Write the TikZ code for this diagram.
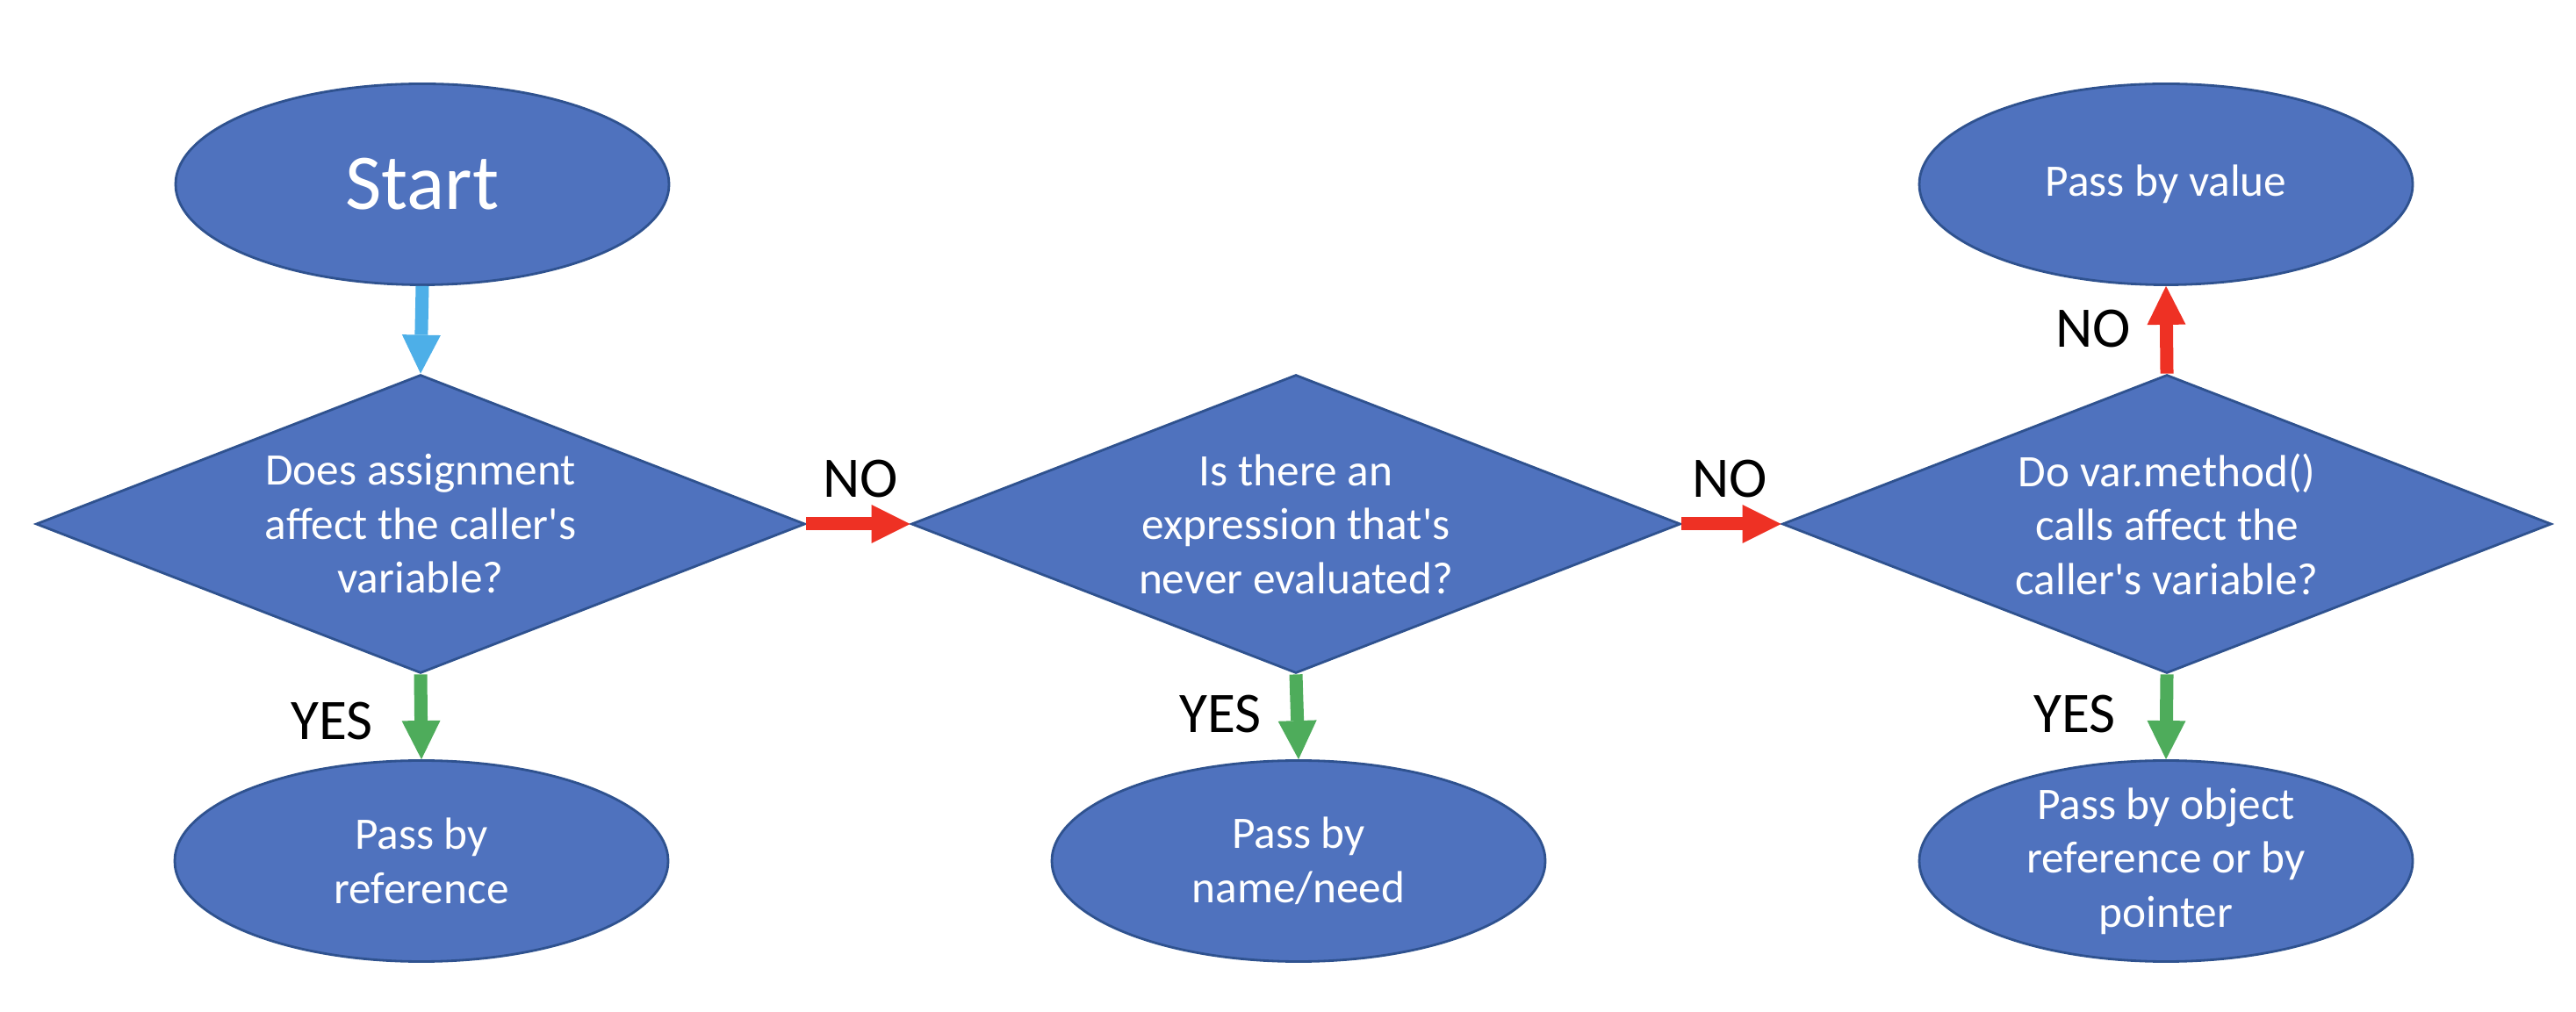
\documentclass[tikz,border=0pt]{standalone}
\usepackage{fontspec}
\setmainfont{Carlito}
\usepackage{xcolor}
\usetikzlibrary{shapes.geometric}
\usetikzlibrary{arrows.meta}

\definecolor{boxblue}{HTML}{4F72BE}
\definecolor{boxedge}{HTML}{2F528F}
\definecolor{noRed}{HTML}{EE3124}
\definecolor{yesGreen}{HTML}{4EAC5B}
\definecolor{startBlue}{HTML}{4DAFE8}

\tikzset{
	terminal/.style={ellipse, draw=boxedge, fill=boxblue, line width=0.8pt, text=white,
		inner sep=-0.2cm, minimum width=5.62cm, minimum height=2.29cm, align=center,
		font=\fontsize{14.6}{17.5}\selectfont},
	decision/.style={diamond, draw=boxedge, fill=boxblue, line width=0.8pt, text=white,
		inner sep=-0.1cm, shape aspect=2.58, minimum width=8.76cm, minimum height=3.40cm,
		align=center, font=\fontsize{14.6}{17.5}\selectfont},
	answer/.style={inner sep=0pt, font=\fontsize{18.6}{22}\selectfont},
	flow/.style={line width=0.15cm, -{Triangle[width=0.44cm,length=0.44cm,line width=0pt]}}
}

\begin{document}
\begin{tikzpicture}
		\useasboundingbox (0, 0) rectangle (29.34, 11.52);
		\node[terminal, font=\fontsize{25.6}{30}\selectfont] (start) at (4.81, 9.42) {Start};
		\node[decision] (assign) at (4.79, 5.55) {Does assignment\\affect the caller\textquotesingle s\\variable?};
		\node[decision] (neverEval) at (14.76, 5.55) {Is there an\\expression that\textquotesingle s\\never evaluated?};
		\node[decision] (methodCall) at (24.68, 5.55) {Do var.method()\\calls affect the\\caller\textquotesingle s variable?};
		\node[terminal] (byRef) at (4.80, 1.71) {Pass by\\reference};
		\node[terminal] (byName) at (14.79, 1.71) {Pass by\\name/need};
		\node[terminal] (byObject) at (24.67, 1.71) {Pass by object\\reference or by\\pointer};
		\node[terminal] (byValue) at (24.67, 9.42) {Pass by value};
		\draw[flow, startBlue] (start.south) -- (assign.north);
		\draw[flow, noRed] (assign.east) -- (neverEval.west);
		\draw[flow, noRed] (neverEval.east) -- (methodCall.west);
		\draw[flow, noRed] (methodCall.north) -- (byValue.south);
		\draw[flow, yesGreen] (assign.south) -- (byRef.north);
		\draw[flow, yesGreen] (neverEval.south) -- (byName.north);
		\draw[flow, yesGreen] (methodCall.south) -- (byObject.north);
		\node[answer] (no1) at (9.80, 6.06) {NO};
		\node[answer] (no2) at (19.70, 6.06) {NO};
		\node[answer] (no3) at (23.84, 7.77) {NO};
		\node[answer] (yes1) at (3.78, 3.30) {YES};
		\node[answer] (yes2) at (13.90, 3.38) {YES};
		\node[answer] (yes3) at (23.63, 3.38) {YES};
	\end{tikzpicture}
\end{document}
